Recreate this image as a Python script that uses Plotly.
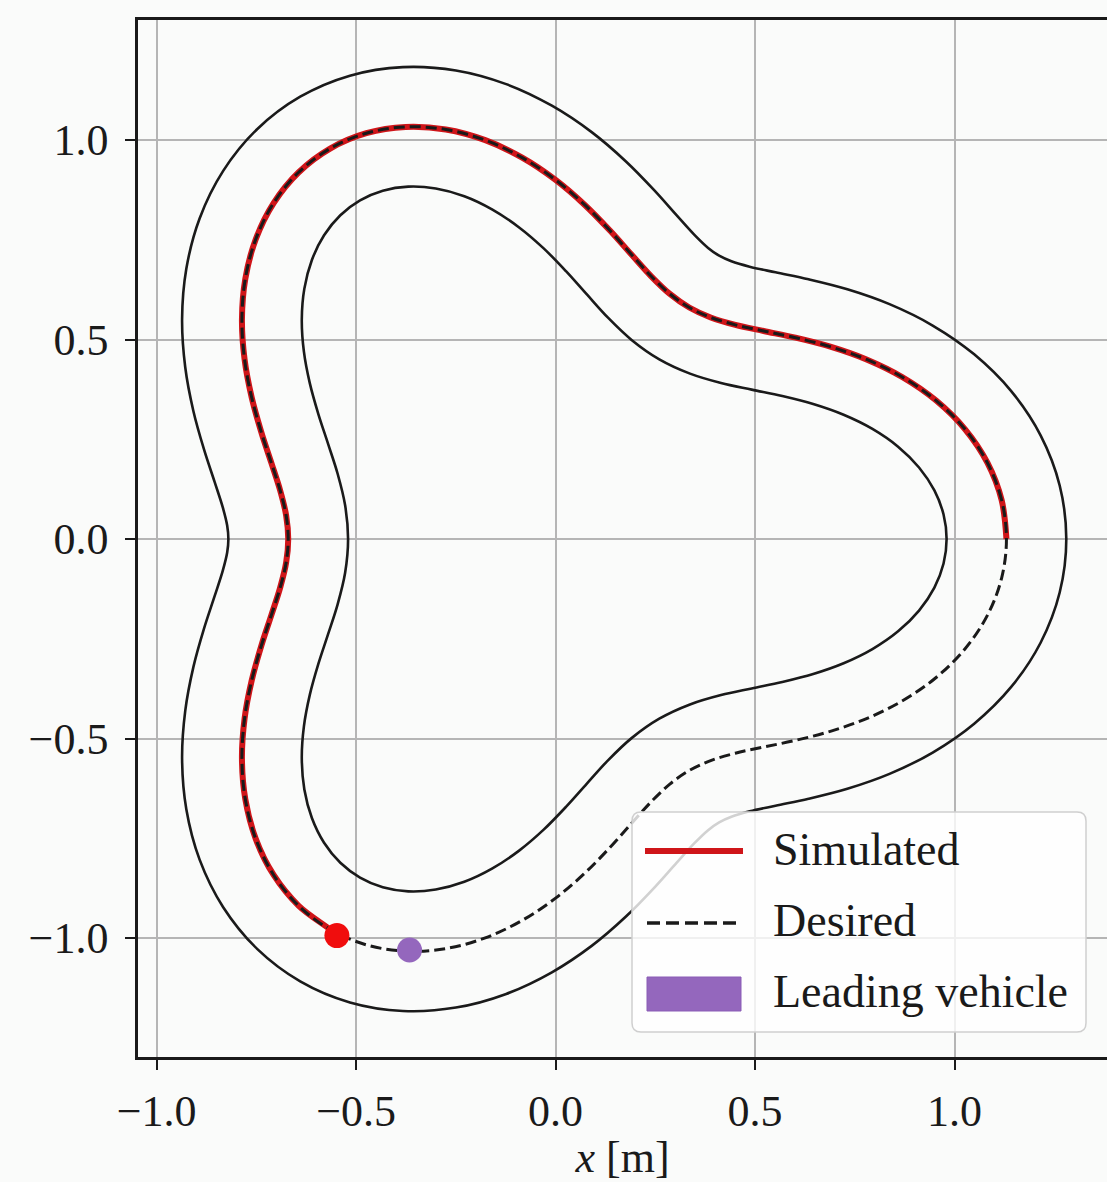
import plotly.graph_objects as go

# Track geometry [m], sampled every 5 degrees around the loop (first point repeated at the end)
center_x = [1.1300, 1.1179, 1.0825, 1.0264, 0.9538, 0.8696, 0.7794, 0.6885, 0.6013, 0.5214,
            0.4505, 0.3888, 0.3350, 0.2864, 0.2397, 0.1908, 0.1363, 0.0733, 0.0000, -0.0837,
            -0.1762, -0.2750, -0.3759, -0.4742, -0.5650, -0.6437, -0.7066, -0.7514, -0.7775,
            -0.7860, -0.7794, -0.7617, -0.7377, -0.7123, -0.6902, -0.6752, -0.6700,
            -0.6752, -0.6902, -0.7123, -0.7377, -0.7617, -0.7794, -0.7860, -0.7775, -0.7514,
            -0.7066, -0.6437, -0.5650, -0.4742, -0.3759, -0.2750, -0.1762, -0.0837, 0.0000,
            0.0733, 0.1363, 0.1908, 0.2397, 0.2864, 0.3350, 0.3888, 0.4505, 0.5214, 0.6013,
            0.6885, 0.7794, 0.8696, 0.9538, 1.0264, 1.0825, 1.1179, 1.1300]
center_y = [0.0000, 0.0978, 0.1908, 0.2750, 0.3471, 0.4055, 0.4500, 0.4821, 0.5046, 0.5214,
            0.5368, 0.5553, 0.5802, 0.6143, 0.6585, 0.7123, 0.7731, 0.8373, 0.9000, 0.9558,
            0.9996, 1.0264, 1.0329, 1.0171, 0.9786, 0.9193, 0.8420, 0.7514, 0.6524,
            0.5504, 0.4500, 0.3552, 0.2685, 0.1908, 0.1217, 0.0591, 0.0000,
            -0.0591, -0.1217, -0.1908, -0.2685, -0.3552, -0.4500, -0.5504, -0.6524, -0.7514,
            -0.8420, -0.9193, -0.9786, -1.0171, -1.0329, -1.0264, -0.9996, -0.9558, -0.9000,
            -0.8373, -0.7731, -0.7123, -0.6585, -0.6143, -0.5802, -0.5553, -0.5368, -0.5214, -0.5046,
            -0.4821, -0.4500, -0.4055, -0.3471, -0.2750, -0.1908, -0.0978, 0.0000]

outer_x = [1.2800, 1.2634, 1.2156, 1.1419, 1.0492, 0.9451, 0.8369, 0.7313, 0.6343, 0.5513,
           0.4863, 0.4407, 0.4100, 0.3823, 0.3480, 0.3031, 0.2465, 0.1764, 0.0913, -0.0092,
           -0.1237, -0.2498, -0.3826, -0.5154, -0.6400, -0.7480, -0.8330, -0.8921, -0.9254,
           -0.9360, -0.9281, -0.9076, -0.8809, -0.8545, -0.8342, -0.8230, -0.8200,
           -0.8230, -0.8342, -0.8545, -0.8809, -0.9076, -0.9281, -0.9360, -0.9254, -0.8921,
           -0.8330, -0.7480, -0.6400, -0.5154, -0.3826, -0.2498, -0.1237, -0.0092, 0.0913,
           0.1764, 0.2465, 0.3031, 0.3480, 0.3823, 0.4100, 0.4407, 0.4863, 0.5513, 0.6343,
           0.7313, 0.8369, 0.9451, 1.0492, 1.1419, 1.2156, 1.2634, 1.2800]
outer_y = [0.0000, 0.1342, 0.2599, 0.3707, 0.4628, 0.5351, 0.5886, 0.6259, 0.6509, 0.6684,
           0.6825, 0.6960, 0.7101, 0.7296, 0.7623, 0.8117, 0.8749, 0.9462, 1.0191, 1.0860,
           1.1401, 1.1743, 1.1828, 1.1613, 1.1085, 1.0271, 0.9227, 0.8035, 0.6772,
           0.5510, 0.4305, 0.3204, 0.2239, 0.1432, 0.0798, 0.0337, 0.0000,
           -0.0337, -0.0798, -0.1432, -0.2239, -0.3204, -0.4305, -0.5510, -0.6772, -0.8035,
           -0.9227, -1.0271, -1.1085, -1.1613, -1.1828, -1.1743, -1.1401, -1.0860, -1.0191,
           -0.9462, -0.8749, -0.8117, -0.7623, -0.7296, -0.7101, -0.6960, -0.6825, -0.6684, -0.6509,
           -0.6259, -0.5886, -0.5351, -0.4628, -0.3707, -0.2599, -0.1342, 0.0000]

inner_x = [0.9800, 0.9724, 0.9494, 0.9109, 0.8584, 0.7941, 0.7219, 0.6457, 0.5683, 0.4915,
           0.4147, 0.3369, 0.2600, 0.1905, 0.1314, 0.0785, 0.0261, -0.0298, -0.0913, -0.1582,
           -0.2287, -0.3002, -0.3692, -0.4330, -0.4900, -0.5394, -0.5802, -0.6107, -0.6296,
           -0.6360, -0.6307, -0.6158, -0.5945, -0.5701, -0.5462, -0.5274, -0.5200,
           -0.5274, -0.5462, -0.5701, -0.5945, -0.6158, -0.6307, -0.6360, -0.6296, -0.6107,
           -0.5802, -0.5394, -0.4900, -0.4330, -0.3692, -0.3002, -0.2287, -0.1582, -0.0913,
           -0.0298, 0.0261, 0.0785, 0.1314, 0.1905, 0.2600, 0.3369, 0.4147, 0.4915, 0.5683,
           0.6457, 0.7219, 0.7941, 0.8584, 0.9109, 0.9494, 0.9724, 0.9800]
inner_y = [0.0000, 0.0614, 0.1217, 0.1793, 0.2314, 0.2759, 0.3114, 0.3383, 0.3583, 0.3744,
           0.3911, 0.4146, 0.4503, 0.4990, 0.5547, 0.6129, 0.6713, 0.7284, 0.7809, 0.8256,
           0.8591, 0.8785, 0.8831, 0.8729, 0.8487, 0.8115, 0.7613, 0.6993, 0.6276,
           0.5498, 0.4695, 0.3900, 0.3131, 0.2384, 0.1636, 0.0845, 0.0000,
           -0.0845, -0.1636, -0.2384, -0.3131, -0.3900, -0.4695, -0.5498, -0.6276, -0.6993,
           -0.7613, -0.8115, -0.8487, -0.8729, -0.8831, -0.8785, -0.8591, -0.8256, -0.7809,
           -0.7284, -0.6713, -0.6129, -0.5547, -0.4990, -0.4503, -0.4146, -0.3911, -0.3744, -0.3583,
           -0.3383, -0.3114, -0.2759, -0.2314, -0.1793, -0.1217, -0.0614, 0.0000]

# Simulated trajectory so far (ends at the ego vehicle)
sim_x = [1.1300, 1.1179, 1.0825, 1.0264, 0.9538, 0.8696, 0.7794, 0.6885, 0.6013, 0.5214,
         0.4505, 0.3888, 0.3350, 0.2864, 0.2397, 0.1908, 0.1363, 0.0733, 0.0000, -0.0837,
         -0.1762, -0.2750, -0.3759, -0.4742, -0.5650, -0.6437, -0.7066, -0.7514, -0.7775,
         -0.7860, -0.7794, -0.7617, -0.7377, -0.7123, -0.6902, -0.6752, -0.6700,
         -0.6752, -0.6902, -0.7123, -0.7377, -0.7617, -0.7794, -0.7860, -0.7775, -0.7514,
         -0.7066, -0.6437, -0.5650, -0.5480]
sim_y = [0.0000, 0.0978, 0.1908, 0.2750, 0.3471, 0.4055, 0.4500, 0.4821, 0.5046, 0.5214,
         0.5368, 0.5553, 0.5802, 0.6143, 0.6585, 0.7123, 0.7731, 0.8373, 0.9000, 0.9558,
         0.9996, 1.0264, 1.0329, 1.0171, 0.9786, 0.9193, 0.8420, 0.7514, 0.6524,
         0.5504, 0.4500, 0.3552, 0.2685, 0.1908, 0.1217, 0.0591, 0.0000,
         -0.0591, -0.1217, -0.1908, -0.2685, -0.3552, -0.4500, -0.5504, -0.6524, -0.7514,
         -0.8420, -0.9193, -0.9786, -0.9940]

ego_pos = (-0.548, -0.994)
lead_pos = (-0.366, -1.030)

tick_vals = [-1.0, -0.5, 0.0, 0.5, 1.0]
tick_text = ["\u22121.0", "\u22120.5", "0.0", "0.5", "1.0"]
legend_labels = ["Simulated", "Desired", "Leading vehicle"]

RED = "#cf1519"
PURPLE = "#9467bd"
INK = "#1a1a1a"
BG = "#fafbfa"
SERIF = "Liberation Serif, Times New Roman, serif"

fig = go.Figure()
for bx, by in ((outer_x, outer_y), (inner_x, inner_y)):
    fig.add_trace(go.Scatter(x=bx, y=by, mode="lines",
                             line=dict(color=INK, width=2.6, shape="spline", smoothing=1.0),
                             hoverinfo="skip", showlegend=False))
fig.add_trace(go.Scatter(x=sim_x, y=sim_y, mode="lines", name=legend_labels[0],
                         line=dict(color=RED, width=6, shape="spline", smoothing=1.0),
                         showlegend=False))
fig.add_trace(go.Scatter(x=center_x, y=center_y, mode="lines", name=legend_labels[1],
                         line=dict(color=INK, width=3, dash="11px,5px", shape="spline", smoothing=1.0),
                         showlegend=False))
fig.add_trace(go.Scatter(x=[ego_pos[0]], y=[ego_pos[1]], mode="markers",
                         marker=dict(color="#f00d0d", size=25, line=dict(width=0)),
                         showlegend=False))
fig.add_trace(go.Scatter(x=[lead_pos[0]], y=[lead_pos[1]], mode="markers", name=legend_labels[2],
                         marker=dict(color=PURPLE, size=25, line=dict(width=0)),
                         showlegend=False))

# plot-area pixel frame: left 138, right 1107, top 20, bottom 1057
PL, PR, PT, PB = 138, 1107, 20, 1057


def px(p):
    return (p - PL) / (PR - PL)


def py(p):
    return (PB - p) / (PB - PT)


# Legend box with rounded corners
x0, x1, y0, y1, r = 632, 1086, 812, 1032, 9
path = (f"M {px(x0 + r)},{py(y0)} L {px(x1 - r)},{py(y0)} Q {px(x1)},{py(y0)} {px(x1)},{py(y0 + r)} "
        f"L {px(x1)},{py(y1 - r)} Q {px(x1)},{py(y1)} {px(x1 - r)},{py(y1)} "
        f"L {px(x0 + r)},{py(y1)} Q {px(x0)},{py(y1)} {px(x0)},{py(y1 - r)} "
        f"L {px(x0)},{py(y0 + r)} Q {px(x0)},{py(y0)} {px(x0 + r)},{py(y0)} Z")
shapes = [
    dict(type="path", path=path, xref="paper", yref="paper", layer="above",
         fillcolor="rgba(255,255,255,0.8)", line=dict(color="#cfcfcf", width=1.5)),
    dict(type="line", xref="paper", yref="paper", layer="above",
         x0=px(645), x1=px(743), y0=py(851), y1=py(851), line=dict(color=RED, width=6)),
    dict(type="line", xref="paper", yref="paper", layer="above",
         x0=px(647), x1=px(741), y0=py(923), y1=py(923), line=dict(color=INK, width=3.5, dash="13px,6px")),
    dict(type="rect", xref="paper", yref="paper", layer="above",
         x0=px(647), x1=px(741), y0=py(1011), y1=py(977), fillcolor=PURPLE,
         line=dict(color="#8a5cb6", width=1)),
]
annotations = []
for label, yc in zip(legend_labels, (849, 920, 991)):
    annotations.append(dict(text=label, xref="paper", yref="paper", x=px(771), y=py(yc),
                            xanchor="left", yanchor="middle", showarrow=False,
                            font=dict(family=SERIF, size=46, color=INK)))

axis_common = dict(
    tickvals=tick_vals, ticktext=tick_text, ticks="outside", ticklen=10, tickwidth=2,
    tickcolor=INK, showline=True, linecolor=INK, linewidth=2.5,
    showgrid=True, gridcolor="#b5b5b5", gridwidth=1.5, zeroline=False,
    tickfont=dict(family=SERIF, size=44, color=INK),
)

fig.update_layout(
    width=1107, height=1182,
    margin=dict(l=PL, r=1107 - PR, t=PT, b=1182 - PB),
    paper_bgcolor=BG, plot_bgcolor=BG,
    showlegend=False,
    xaxis=dict(range=[-1.0465, 1.3820], mirror=True, ticklabelstandoff=3,
               title=dict(text="<i>x</i> [m]", font=dict(family=SERIF, size=44, color=INK), standoff=12),
               **axis_common),
    yaxis=dict(range=[-1.2982, 1.3008], ticklabelstandoff=8, **axis_common),
    shapes=shapes, annotations=annotations,
)

fig.write_html("out.html")
